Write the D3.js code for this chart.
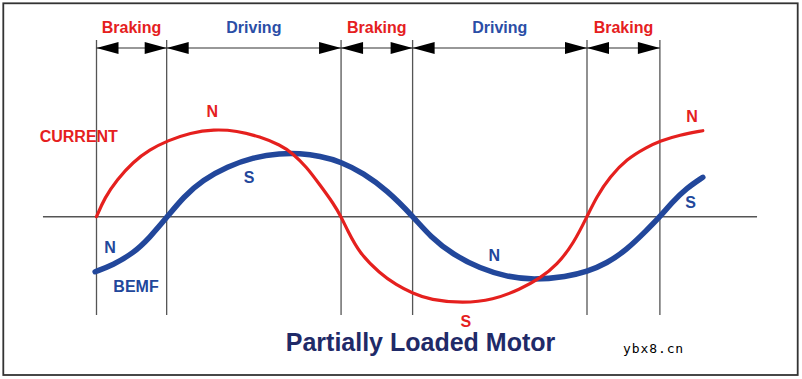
<!DOCTYPE html>
<html>
<head>
<meta charset="utf-8">
<script src="https://cdnjs.cloudflare.com/ajax/libs/d3/7.8.5/d3.min.js"></script>
<style>
  body { margin: 0; background: #fff; }
  svg text { font-family: "Liberation Sans", Arial, sans-serif; font-weight: bold; }
</style>
</head>
<body>
<svg id="chart"></svg>
<script>
// electrical angle (deg) -> normalised level
const currentDeg = [0, 6, 15, 27, 39, 52, 69, 86, 103, 120, 135, 144, 154, 164, 174, 179.5, 184, 193, 208, 220, 232, 245, 269, 291, 311, 325.5, 338, 350, 360, 367, 377, 389, 404, 413.5, 428, 445];
const currentVal = [0, 0.19, 0.37, 0.55, 0.67, 0.76, 0.84, 0.874, 0.86, 0.8, 0.717, 0.634, 0.5, 0.317, 0.13, 0, -0.13, -0.366, -0.566, -0.683, -0.766, -0.833, -0.866, -0.833, -0.726, -0.616, -0.483, -0.27, 0, 0.2, 0.4, 0.575, 0.695, 0.757, 0.817, 0.86];

const bemfDeg = [-1, 12, 27, 39, 52, 64, 78, 96, 115, 135, 149, 164, 179.5, 196, 213, 232.5, 245, 262, 281.5, 301, 320.5, 345, 360, 374.5, 389, 404, 413.5, 423, 433, 445];
const bemfVal = [-0.55, -0.483, -0.366, -0.21, 0, 0.2, 0.367, 0.5, 0.594, 0.634, 0.634, 0.607, 0.55, 0.434, 0.267, 0, -0.2, -0.383, -0.516, -0.6, -0.633, -0.6, -0.55, -0.466, -0.333, -0.133, 0, 0.15, 0.284, 0.394];

// phase boundaries and regions
const boundaries = [0, 51.5, 179.5, 232, 360, 413.5];
const regions = ["Braking", "Driving", "Braking", "Driving", "Braking"];

// curve labels [text, deg, level, series]
const labels = [
    ["CURRENT", -13, 0.75, "current"],
    ["N", 85, 0.995, "current"],
    ["S", 271, -1.1, "current"],
    ["N", 437, 0.95, "current"],
    ["BEMF", 29, -0.755, "bemf"],
    ["N", 10, -0.36, "bemf"],
    ["S", 112, 0.34, "bemf"],
    ["N", 292, -0.44, "bemf"],
    ["S", 436, 0.085, "bemf"]
];

const title = "Partially Loaded Motor";
const watermark = "ybx8.cn";

const width = 802, height = 379;
const red = "#e5201e", blue = "#22479b";

const svg = d3.select("#chart")
    .attr("width", width)
    .attr("height", height)
;

svg.append("rect")
    .attr("x", 3.3).attr("y", 3.3)
    .attr("width", 794.4).attr("height", 371.7)
    .attr("fill", "#fff")
    .attr("stroke", "#333")
    .attr("stroke-width", 1.8)
;

const xScale = d3.scaleLinear().domain([0, 360]).range([96.5, 587]);
const yScale = d3.scaleLinear().domain([-1, 1]).range([316.7, 116.7]);

// zero line
svg.append("line")
    .attr("x1", xScale(-39.3)).attr("x2", xScale(484.8))
    .attr("y1", yScale(0)).attr("y2", yScale(0))
    .attr("stroke", "#555").attr("stroke-width", 1.4)
;

// phase boundary lines
svg.selectAll(".bound")
    .data(boundaries)
    .enter().append("line")
    .attr("class", "bound")
    .attr("x1", d => xScale(d)).attr("x2", d => xScale(d))
    .attr("y1", 40).attr("y2", 315)
    .attr("stroke", "#555").attr("stroke-width", 1.3)
;

// dimension arrows
const arrowY = 48;
const arrows = svg.append("g");
regions.forEach((name, i) => {
    const x0 = xScale(boundaries[i]), x1 = xScale(boundaries[i + 1]);
    arrows.append("line")
        .attr("x1", x0).attr("x2", x1)
        .attr("y1", arrowY).attr("y2", arrowY)
        .attr("stroke", "#333").attr("stroke-width", 1.2);
    arrows.append("path")
        .attr("d", `M${x0},${arrowY} L${x0 + 22},${arrowY - 6} L${x0 + 22},${arrowY + 6} Z`)
        .attr("fill", "#000");
    arrows.append("path")
        .attr("d", `M${x1},${arrowY} L${x1 - 22},${arrowY - 6} L${x1 - 22},${arrowY + 6} Z`)
        .attr("fill", "#000");
    arrows.append("text")
        .attr("x", (x0 + x1) / 2)
        .attr("y", 33)
        .attr("text-anchor", "middle")
        .attr("font-size", 16)
        .attr("fill", name == "Braking" ? red : "#2a4ea6")
        .text(name);
});

const line = d3.line()
    .x(d => xScale(d[0]))
    .y(d => yScale(d[1]))
    .curve(d3.curveBasis)
;

svg.append("path")
    .datum(bemfDeg.map((d, i) => [d, bemfVal[i]]))
    .attr("d", line)
    .attr("fill", "none")
    .attr("stroke", blue)
    .attr("stroke-width", 5.5)
    .attr("stroke-linecap", "round")
;

svg.append("path")
    .datum(currentDeg.map((d, i) => [d, currentVal[i]]))
    .attr("d", line)
    .attr("fill", "none")
    .attr("stroke", red)
    .attr("stroke-width", 3.2)
    .attr("stroke-linecap", "round")
;

svg.selectAll(".lbl")
    .data(labels)
    .enter().append("text")
    .attr("class", "lbl")
    .attr("x", d => xScale(d[1]))
    .attr("y", d => yScale(d[2]))
    .attr("text-anchor", "middle")
    .attr("font-size", 16)
    .attr("fill", d => d[3] == "current" ? red : blue)
    .text(d => d[0])
;

svg.append("text")
    .attr("x", 420.5)
    .attr("y", 351)
    .attr("text-anchor", "middle")
    .attr("font-size", 25)
    .attr("fill", "#1f2a68")
    .text(title)
;

svg.append("text")
    .attr("x", 623)
    .attr("y", 353)
    .style("font-family", "'DejaVu Sans Mono', monospace")
    .style("font-weight", "normal")
    .attr("font-size", 13)
    .attr("letter-spacing", 0.9)
    .attr("fill", "#000")
    .text(watermark)
;
</script>
</body>
</html>
